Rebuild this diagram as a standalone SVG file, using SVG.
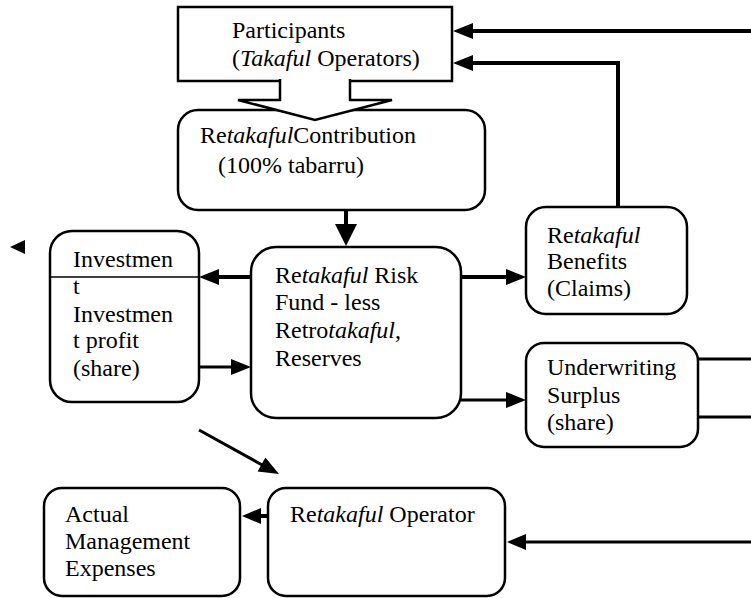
<svg xmlns="http://www.w3.org/2000/svg" width="751" height="598" viewBox="0 0 751 598">
<style>
text { font-family: "Liberation Serif", "Times New Roman", Times, serif; font-size: 24px; fill: #000; }
.i { font-style: italic; }
.box { fill: #fff; stroke: #000; stroke-width: 2.5; }
.rule { stroke: #000; stroke-width: 1.5; fill: none; }
.thick { stroke: #000; stroke-width: 4; fill: none; }
.thin { stroke: #000; stroke-width: 3; fill: none; }
.head { fill: #000; stroke: none; }
</style>
<rect width="751" height="598" fill="#fff"/>

<g id="participants">
  <rect class="box" x="178" y="7" width="274" height="74"/>
  <text x="232" y="38">Participants</text>
  <text x="232" y="66">(<tspan class="i">Takaful</tspan> Operators)</text>
</g>

<g id="contribution">
  <rect class="box" x="178" y="110" width="307" height="100" rx="20" ry="20"/>
  <text x="200" y="143">Re<tspan class="i">takaful</tspan>Contribution</text>
  <text x="218" y="173">(100% tabarru)</text>
</g>

<g id="block-arrow">
  <path d="M280,79 V100 H238 L315,120 L392,100 H350 V79" fill="#fff" stroke="#000" stroke-width="2.5" stroke-linejoin="miter"/>
</g>

<g id="risk-fund">
  <rect class="box" x="251" y="247" width="210" height="171" rx="25" ry="25"/>
  <text x="275" y="283">Re<tspan class="i">takaful</tspan> Risk</text>
  <text x="275" y="310">Fund - less</text>
  <text x="275" y="338">Retro<tspan class="i">takaful</tspan>,</text>
  <text x="275" y="366">Reserves</text>
</g>

<g id="investment">
  <rect class="box" x="50" y="231" width="149" height="171" rx="22" ry="22"/>
  <line class="rule" x1="50" y1="277" x2="199" y2="277"/>
  <text x="73" y="267">Investmen</text>
  <text x="73" y="294">t</text>
  <text x="73" y="322">Investmen</text>
  <text x="73" y="348">t profit</text>
  <text x="73" y="376">(share)</text>
</g>

<g id="benefits">
  <rect class="box" x="526" y="207" width="161" height="107" rx="20" ry="20"/>
  <text x="547" y="243">Re<tspan class="i">takaful</tspan></text>
  <text x="547" y="269">Benefits</text>
  <text x="547" y="296">(Claims)</text>
</g>

<g id="surplus">
  <rect class="box" x="526" y="343" width="172" height="104" rx="18" ry="18"/>
  <text x="547" y="375">Underwriting</text>
  <text x="547" y="403">Surplus</text>
  <text x="547" y="430">(share)</text>
</g>

<g id="expenses">
  <rect class="box" x="44" y="488" width="196" height="108" rx="18" ry="18"/>
  <text x="65" y="522">Actual</text>
  <text x="65" y="549">Management</text>
  <text x="65" y="576">Expenses</text>
</g>

<g id="operator">
  <rect class="box" x="268" y="488" width="237" height="108" rx="18" ry="18"/>
  <text x="290" y="522">Re<tspan class="i">takaful</tspan> Operator</text>
</g>

<g id="connectors">
  <line class="thick" x1="751" y1="31" x2="470" y2="31"/>
  <polygon class="head" points="453,31 473,23 473,39"/>

  <polyline class="thick" points="618,207 618,63 470,63"/>
  <polygon class="head" points="453,63 473,55 473,71"/>

  <line class="thick" x1="346" y1="210" x2="346" y2="226"/>
  <polygon class="head" points="346,246 335,224 357,224"/>

  <line class="thick" x1="461" y1="277" x2="508" y2="277"/>
  <polygon class="head" points="526,277 506,269 506,285"/>

  <line class="thin" x1="461" y1="400" x2="508" y2="400"/>
  <polygon class="head" points="526,400 506,392 506,408"/>

  <line class="thick" x1="251" y1="277" x2="216" y2="277"/>
  <polygon class="head" points="199,277 219,269 219,285"/>

  <line class="thin" x1="199" y1="367" x2="234" y2="367"/>
  <polygon class="head" points="251,367 231,359 231,375"/>

  <polygon class="head" points="10,247 25,240 25,254"/>

  <line class="thin" x1="698" y1="359" x2="751" y2="359"/>
  <line class="thin" x1="698" y1="417" x2="751" y2="417"/>

  <line class="thin" x1="199" y1="430" x2="264" y2="466"/>
  <polygon class="head" points="279,474 257.6,471.4 265.4,457.4"/>

  <line class="thick" x1="268" y1="516" x2="258" y2="516"/>
  <polygon class="head" points="242,516 261,508 261,524"/>

  <line class="thin" x1="751" y1="542" x2="523" y2="542"/>
  <polygon class="head" points="507,542 526,534 526,550"/>
</g>
</svg>
